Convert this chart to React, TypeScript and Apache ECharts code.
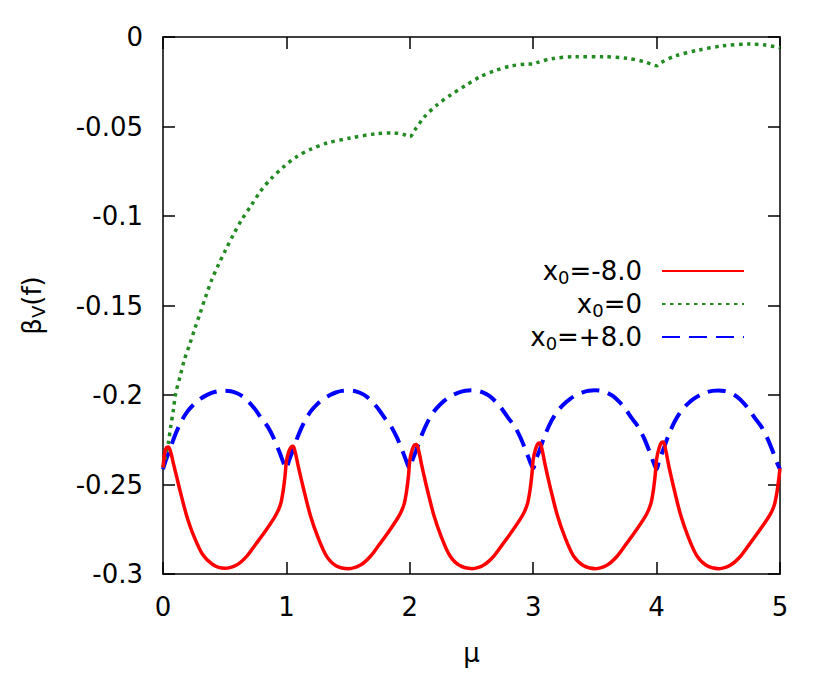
import React, { useEffect, useRef } from 'react';
import * as echarts from 'echarts';

const FONT = 'DejaVu Sans';

const xTicks = [0, 1, 2, 3, 4, 5];
const yTicks = [0, -0.05, -0.1, -0.15, -0.2, -0.25, -0.3];

const seriesNames = ['x0=-8.0', 'x0=0', 'x0=+8.0'];
const legendLabels = ['=-8.0', '=0', '=+8.0'];
const seriesColors = ['#ff0000', '#228b22', '#0000ff'];

const redData = [
  [0.000,-0.2405],[0.015,-0.2320],[0.030,-0.2292],[0.045,-0.2290],[0.065,-0.2325],[0.085,-0.2385],[0.110,-0.2455],[0.140,-0.2540],[0.190,-0.2670],[0.245,-0.2780],[0.320,-0.2890],[0.400,-0.2945],[0.500,-0.2968],[0.600,-0.2948],[0.680,-0.2900],[0.750,-0.2835],[0.830,-0.2760],[0.900,-0.2688],[0.930,-0.2650],[0.955,-0.2605],[0.975,-0.2530],[0.990,-0.2445],
  [1.000,-0.2370],[1.020,-0.2315],[1.040,-0.2290],[1.055,-0.2287],[1.075,-0.2330],[1.095,-0.2395],[1.120,-0.2470],[1.150,-0.2555],[1.195,-0.2675],[1.250,-0.2785],[1.325,-0.2900],[1.405,-0.2955],[1.505,-0.2970],[1.600,-0.2950],[1.680,-0.2902],[1.750,-0.2838],[1.830,-0.2762],[1.900,-0.2690],[1.930,-0.2652],[1.955,-0.2607],[1.975,-0.2532],[1.990,-0.2447],
  [2.000,-0.2365],[2.020,-0.2305],[2.040,-0.2278],[2.055,-0.2276],[2.075,-0.2320],[2.095,-0.2388],[2.120,-0.2465],[2.150,-0.2552],[2.195,-0.2672],[2.250,-0.2783],[2.325,-0.2898],[2.405,-0.2953],[2.505,-0.2970],[2.600,-0.2950],[2.680,-0.2901],[2.750,-0.2836],[2.830,-0.2760],[2.900,-0.2688],[2.930,-0.2650],[2.955,-0.2604],[2.975,-0.2528],[2.990,-0.2440],
  [3.000,-0.2360],[3.020,-0.2300],[3.040,-0.2270],[3.055,-0.2268],[3.075,-0.2315],[3.095,-0.2385],[3.120,-0.2463],[3.150,-0.2550],[3.195,-0.2671],[3.250,-0.2782],[3.325,-0.2897],[3.405,-0.2952],[3.505,-0.2970],[3.600,-0.2950],[3.680,-0.2901],[3.750,-0.2836],[3.830,-0.2760],[3.900,-0.2688],[3.930,-0.2650],[3.955,-0.2603],[3.975,-0.2526],[3.990,-0.2438],
  [4.000,-0.2358],[4.020,-0.2297],[4.040,-0.2265],[4.055,-0.2263],[4.075,-0.2312],[4.095,-0.2383],[4.120,-0.2462],[4.150,-0.2550],[4.195,-0.2671],[4.250,-0.2782],[4.325,-0.2897],[4.405,-0.2952],[4.505,-0.2970],[4.600,-0.2950],[4.680,-0.2901],[4.750,-0.2836],[4.830,-0.2760],[4.900,-0.2690],[4.930,-0.2655],[4.955,-0.2612],[4.975,-0.2545],[4.990,-0.2470],[5.000,-0.2410],
];

const greenData = [
  [0.000,-0.2405],[0.020,-0.2345],[0.043,-0.2270],[0.062,-0.2177],[0.084,-0.2084],[0.103,-0.1990],[0.138,-0.1898],[0.173,-0.1804],[0.219,-0.1711],[0.259,-0.1627],[0.300,-0.1544],[0.346,-0.1450],[0.394,-0.1358],[0.448,-0.1274],[0.507,-0.1190],[0.569,-0.1106],[0.637,-0.1022],[0.712,-0.0944],[0.786,-0.0866],[0.873,-0.0793],[0.976,-0.0726],[1.080,-0.0670],[1.200,-0.0626],[1.330,-0.0592],[1.520,-0.0564],[1.730,-0.0540],[1.870,-0.0536],[1.950,-0.0545],[2.000,-0.0558],[2.040,-0.0520],[2.120,-0.0445],[2.220,-0.0380],[2.330,-0.0324],[2.450,-0.0272],[2.570,-0.0222],[2.690,-0.0188],[2.820,-0.0162],[2.960,-0.0151],[3.000,-0.0152],[3.030,-0.0143],[3.150,-0.0121],[3.340,-0.0110],[3.570,-0.0110],[3.760,-0.0119],[3.900,-0.0138],[3.970,-0.0156],[4.000,-0.0160],[4.030,-0.0145],[4.150,-0.0106],[4.340,-0.0073],[4.530,-0.0050],[4.760,-0.0039],[4.880,-0.0045],[4.960,-0.0054],[5.000,-0.0060],
];

const blueData = [
  [0.00,-0.2415],[0.02,-0.2370],[0.05,-0.2315],[0.10,-0.2220],[0.15,-0.2145],[0.20,-0.2090],[0.25,-0.2052],[0.30,-0.2023],[0.35,-0.2002],[0.40,-0.1987],[0.45,-0.1978],[0.50,-0.1976],[0.55,-0.1979],[0.60,-0.1990],[0.65,-0.2010],[0.70,-0.2042],[0.75,-0.2083],[0.80,-0.2133],[0.85,-0.2178],[0.90,-0.2245],[0.95,-0.2330],[0.98,-0.2385],
  [1.00,-0.2413],[1.02,-0.2368],[1.05,-0.2313],[1.10,-0.2219],[1.15,-0.2144],[1.20,-0.2089],[1.25,-0.2051],[1.30,-0.2022],[1.35,-0.2001],[1.40,-0.1986],[1.45,-0.1977],[1.50,-0.1975],[1.55,-0.1978],[1.60,-0.1989],[1.65,-0.2009],[1.70,-0.2041],[1.75,-0.2082],[1.80,-0.2132],[1.85,-0.2177],[1.90,-0.2244],[1.95,-0.2329],[1.98,-0.2384],
  [2.00,-0.2412],[2.02,-0.2367],[2.05,-0.2312],[2.10,-0.2218],[2.15,-0.2143],[2.20,-0.2088],[2.25,-0.2050],[2.30,-0.2021],[2.35,-0.2000],[2.40,-0.1985],[2.45,-0.1976],[2.50,-0.1974],[2.55,-0.1977],[2.60,-0.1988],[2.65,-0.2008],[2.70,-0.2040],[2.75,-0.2081],[2.80,-0.2131],[2.85,-0.2176],[2.90,-0.2243],[2.95,-0.2328],[2.98,-0.2383],
  [3.00,-0.2410],[3.02,-0.2366],[3.05,-0.2311],[3.10,-0.2217],[3.15,-0.2142],[3.20,-0.2088],[3.25,-0.2050],[3.30,-0.2021],[3.35,-0.2000],[3.40,-0.1985],[3.45,-0.1976],[3.50,-0.1974],[3.55,-0.1977],[3.60,-0.1988],[3.65,-0.2008],[3.70,-0.2040],[3.75,-0.2081],[3.80,-0.2131],[3.85,-0.2177],[3.90,-0.2244],[3.95,-0.2330],[3.98,-0.2386],
  [4.00,-0.2415],[4.02,-0.2369],[4.05,-0.2313],[4.10,-0.2219],[4.15,-0.2144],[4.20,-0.2089],[4.25,-0.2051],[4.30,-0.2022],[4.35,-0.2001],[4.40,-0.1986],[4.45,-0.1977],[4.50,-0.1975],[4.55,-0.1978],[4.60,-0.1989],[4.65,-0.2009],[4.70,-0.2041],[4.75,-0.2082],[4.80,-0.2132],[4.85,-0.2178],[4.90,-0.2245],[4.95,-0.2330],[4.98,-0.2385],[5.00,-0.2415],
];

const seriesData = [redData, greenData, blueData];
const lineWidths = [3.5, 3.5, 4];
const lineTypes: any[] = ['solid', [3.5, 4.5], [18, 9]];

export default function App() {
  const ref = useRef<HTMLDivElement>(null);
  useEffect(() => {
    if (!ref.current) return;
    const chart = echarts.init(ref.current, null, { renderer: 'svg' });
    const axisLine = { show: true, onZero: false, lineStyle: { color: '#000', width: 1.5 } };
    const tick = { show: true, inside: true, length: 12, lineStyle: { color: '#000', width: 1.5 } };
    const rich = {
      b: { fontSize: 26, fontFamily: FONT, lineHeight: 30, color: '#000' },
      s: { fontSize: 18, fontFamily: FONT, lineHeight: 16, verticalAlign: 'bottom', color: '#000' },
      g: { width: 15, fontSize: 26, lineHeight: 30 },
    };
    chart.setOption({
      animation: false,
      backgroundColor: '#fff',
      textStyle: { fontFamily: FONT },
      grid: { left: 163, right: 50, top: 37, bottom: 100, show: false, outerBoundsMode: 'none' },
      legend: {
        show: true,
        orient: 'vertical',
        right: 85,
        top: 258,
        padding: 0,
        align: 'right',
        itemGap: 5,
        itemWidth: 82,
        itemHeight: 14,
        data: seriesNames,
        itemStyle: { opacity: 0 },
        formatter: (name: string) => '{b|x}{s|0}{b|' + legendLabels[seriesNames.indexOf(name)] + '}{g|}',
        textStyle: { fontSize: 26, fontFamily: FONT, color: '#000', rich },
      },
      xAxis: [
        {
          type: 'value', min: xTicks[0], max: xTicks[xTicks.length - 1], interval: 1,
          position: 'bottom',
          axisLine, axisTick: tick, splitLine: { show: false },
          axisLabel: { fontSize: 26, fontFamily: FONT, color: '#000', margin: 20 },
          name: 'μ', nameLocation: 'middle', nameGap: 66,
          nameTextStyle: { fontSize: 26, fontFamily: FONT, color: '#000' },
        },
        {
          type: 'value', min: xTicks[0], max: xTicks[xTicks.length - 1], interval: 1,
          position: 'top',
          axisLine, axisTick: tick, splitLine: { show: false }, axisLabel: { show: false },
        },
      ],
      yAxis: [
        {
          type: 'value', min: yTicks[yTicks.length - 1], max: yTicks[0], interval: 0.05,
          position: 'left',
          axisLine, axisTick: tick, splitLine: { show: false },
          axisLabel: {
            fontSize: 26, fontFamily: FONT, color: '#000', margin: 20,
            formatter: (v: number) => (Math.abs(v) < 1e-9 ? '0' : String(+v.toFixed(2))),
          },
          name: '{b|β}{s|V}{b|(f)}', nameLocation: 'middle', nameGap: 116, nameRotate: 90,
          nameTextStyle: { fontSize: 26, fontFamily: FONT, color: '#000', rich },
        },
        {
          type: 'value', min: yTicks[yTicks.length - 1], max: yTicks[0], interval: 0.05,
          position: 'right',
          axisLine, axisTick: tick, splitLine: { show: false }, axisLabel: { show: false },
        },
      ],
      series: seriesNames.map((name, i) => ({
        name,
        type: 'line',
        data: seriesData[i],
        showSymbol: false,
        symbol: 'none',
        smooth: 0.3,
        clip: true,
        lineStyle: { color: seriesColors[i], width: lineWidths[i], type: lineTypes[i], cap: 'butt' },
        itemStyle: { color: seriesColors[i] },
        z: 3 - i,
      })),
    });
    return () => chart.dispose();
  }, []);
  return <div ref={ref} style={{ position: 'fixed', left: 0, top: 0, width: 830, height: 674 }} />;
}
